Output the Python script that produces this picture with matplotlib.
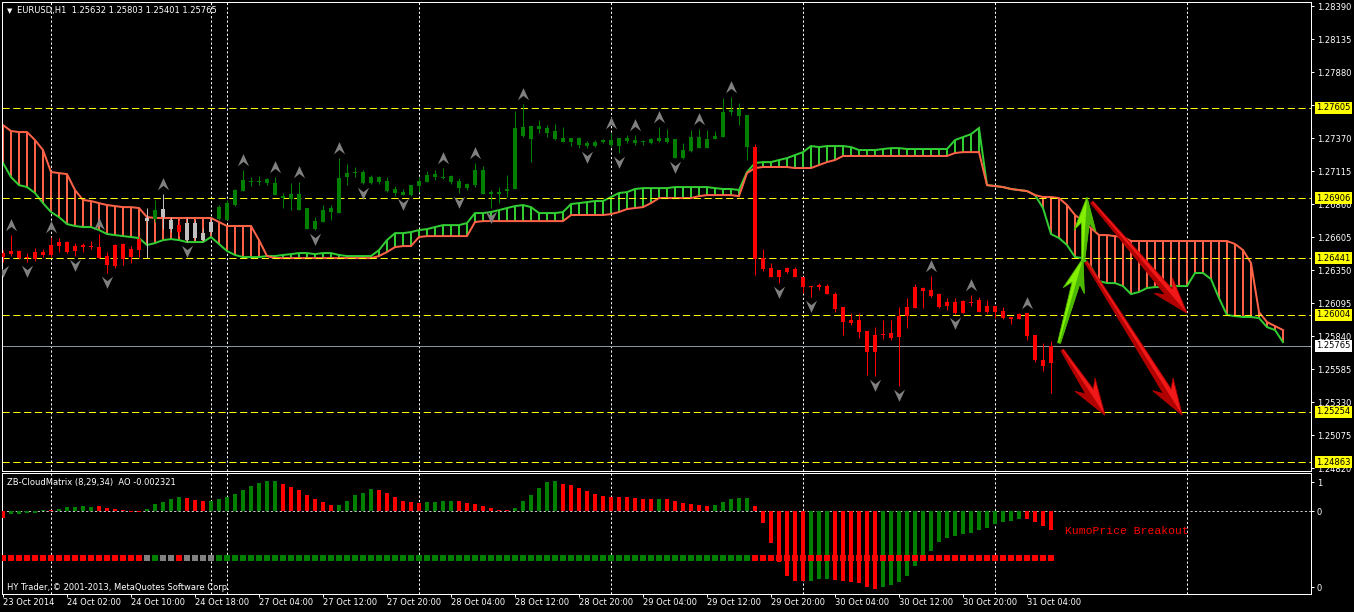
import numpy as np
import matplotlib.pyplot as plt
from matplotlib.path import Path
from matplotlib.patches import Polygon
from matplotlib.transforms import IdentityTransform

# ---- price data (EURUSD H1), bar index 0..131 ----
opens = [1.26481, 1.26497, 1.26497, 1.26450, 1.26489, 1.26489, 1.26543, 1.26566, 1.26566, 1.26535,
         1.26543, 1.26535, 1.26527, 1.26458, 1.26543, 1.26551, 1.26512, 1.26589, 1.26752, 1.26744,
         1.26821, 1.26736, 1.26697, 1.26713, 1.26597, 1.26635, 1.26643, 1.26744, 1.26736, 1.26852,
         1.26960, 1.27029, 1.27037, 1.27022, 1.27022, 1.26921, 1.26898, 1.26937, 1.26829, 1.26666,
         1.26721, 1.26798, 1.26790, 1.27068, 1.27099, 1.27107, 1.27068, 1.27029, 1.27037, 1.26945,
         1.26929, 1.26929, 1.26999, 1.27029, 1.27068, 1.27068, 1.27076, 1.27037, 1.26983, 1.27006,
         1.27122, 1.26937, 1.26952, 1.26960, 1.26976, 1.27385, 1.27462, 1.27439, 1.27447, 1.27424,
         1.27370, 1.27339, 1.27370, 1.27308, 1.27308, 1.27339, 1.27354, 1.27308, 1.27346, 1.27354,
         1.27339, 1.27331, 1.27346, 1.27370, 1.27362, 1.27215, 1.27269, 1.27377, 1.27292, 1.27362,
         1.27377, 1.27571, 1.27594, 1.27547, 1.27300, 1.26442, 1.26365, 1.26296, 1.26334, 1.26358,
         1.26296, 1.26226, 1.26218, 1.26226, 1.26164, 1.26064, 1.25940, 1.25963, 1.25878, 1.25716,
         1.25855, 1.25863, 1.25832, 1.25994, 1.26056, 1.26211, 1.26195, 1.26164, 1.26071, 1.26102,
         1.26017, 1.26102, 1.26118, 1.26025, 1.26071, 1.26033, 1.25987, 1.25971, 1.26017, 1.25847,
         1.25654, 1.25632]
highs = [1.26504, 1.26620, 1.26504, 1.26481, 1.26520, 1.26512, 1.26605, 1.26597, 1.26574, 1.26558,
         1.26558, 1.26574, 1.26628, 1.26489, 1.26551, 1.26558, 1.26535, 1.26612, 1.26829, 1.26891,
         1.26937, 1.26759, 1.26736, 1.26752, 1.26736, 1.26674, 1.26752, 1.26852, 1.26891, 1.26976,
         1.27122, 1.27068, 1.27076, 1.27060, 1.27068, 1.26945, 1.27022, 1.27029, 1.26829, 1.26759,
         1.26852, 1.26852, 1.27215, 1.27169, 1.27146, 1.27122, 1.27084, 1.27076, 1.27068, 1.26999,
         1.26976, 1.27006, 1.27068, 1.27115, 1.27122, 1.27138, 1.27084, 1.27060, 1.27022, 1.27177,
         1.27153, 1.26968, 1.26991, 1.27084, 1.27578, 1.27632, 1.27462, 1.27509, 1.27470, 1.27478,
         1.27455, 1.27370, 1.27377, 1.27346, 1.27354, 1.27362, 1.27408, 1.27370, 1.27393, 1.27393,
         1.27354, 1.27370, 1.27455, 1.27439, 1.27362, 1.27331, 1.27431, 1.27439, 1.27431, 1.27424,
         1.27679, 1.27687, 1.27640, 1.27547, 1.27323, 1.26512, 1.26404, 1.26350, 1.26373, 1.26373,
         1.26296, 1.26226, 1.26249, 1.26242, 1.26180, 1.26064, 1.26017, 1.26017, 1.25878, 1.25909,
         1.25963, 1.25963, 1.26064, 1.26133, 1.26242, 1.26218, 1.26304, 1.26172, 1.26133, 1.26133,
         1.26118, 1.26157, 1.26141, 1.26118, 1.26071, 1.26064, 1.25987, 1.26017, 1.26017, 1.25847,
         1.25785, 1.25803]
lows = [1.26412, 1.26458, 1.26435, 1.26412, 1.26419, 1.26450, 1.26450, 1.26489, 1.26481, 1.26458,
        1.26489, 1.26512, 1.26442, 1.26327, 1.26365, 1.26388, 1.26404, 1.26450, 1.26442, 1.26721,
        1.26666, 1.26643, 1.26612, 1.26566, 1.26581, 1.26574, 1.26628, 1.26736, 1.26736, 1.26844,
        1.26960, 1.26999, 1.27006, 1.27006, 1.26929, 1.26829, 1.26813, 1.26813, 1.26666, 1.26659,
        1.26721, 1.26736, 1.26790, 1.27006, 1.27068, 1.27014, 1.27014, 1.27014, 1.26952, 1.26921,
        1.26929, 1.26921, 1.26952, 1.27029, 1.27045, 1.27053, 1.27014, 1.26945, 1.26968, 1.26991,
        1.26937, 1.26829, 1.26867, 1.26914, 1.26976, 1.27377, 1.27184, 1.27408, 1.27377, 1.27354,
        1.27339, 1.27308, 1.27292, 1.27292, 1.27300, 1.27331, 1.27300, 1.27254, 1.27331, 1.27315,
        1.27315, 1.27323, 1.27339, 1.27331, 1.27215, 1.27207, 1.27261, 1.27292, 1.27292, 1.27362,
        1.27377, 1.27547, 1.27470, 1.27200, 1.26311, 1.26342, 1.26296, 1.26249, 1.26327, 1.26296,
        1.26172, 1.26141, 1.26195, 1.26164, 1.26025, 1.25847, 1.25925, 1.25824, 1.25539, 1.25531,
        1.25816, 1.25809, 1.25453, 1.25901, 1.26056, 1.26056, 1.26141, 1.26056, 1.26041, 1.26010,
        1.26017, 1.26071, 1.26025, 1.26017, 1.25979, 1.25971, 1.25932, 1.25971, 1.25809, 1.25639,
        1.25570, 1.25401]
closes = [1.26450, 1.26473, 1.26442, 1.26442, 1.26435, 1.26466, 1.26466, 1.26535, 1.26489, 1.26497,
          1.26527, 1.26527, 1.26442, 1.26388, 1.26381, 1.26435, 1.26450, 1.26504, 1.26728, 1.26813,
          1.26759, 1.26666, 1.26643, 1.26581, 1.26713, 1.26581, 1.26721, 1.26836, 1.26867, 1.26968,
          1.27045, 1.27037, 1.27029, 1.27053, 1.26929, 1.26906, 1.26937, 1.26813, 1.26666, 1.26728,
          1.26813, 1.26829, 1.27060, 1.27099, 1.27107, 1.27022, 1.27022, 1.27068, 1.26960, 1.26976,
          1.26952, 1.27006, 1.27037, 1.27084, 1.27091, 1.27060, 1.27029, 1.26983, 1.27014, 1.27122,
          1.26937, 1.26952, 1.26937, 1.26976, 1.27447, 1.27455, 1.27362, 1.27462, 1.27408, 1.27362,
          1.27339, 1.27370, 1.27315, 1.27331, 1.27339, 1.27354, 1.27315, 1.27370, 1.27370, 1.27331,
          1.27346, 1.27362, 1.27370, 1.27339, 1.27215, 1.27277, 1.27377, 1.27292, 1.27362, 1.27385,
          1.27571, 1.27586, 1.27540, 1.27300, 1.26435, 1.26358, 1.26296, 1.26350, 1.26365, 1.26296,
          1.26218, 1.26218, 1.26234, 1.26164, 1.26048, 1.25948, 1.25963, 1.25870, 1.25716, 1.25847,
          1.25847, 1.25824, 1.25994, 1.26064, 1.26218, 1.26187, 1.26149, 1.26064, 1.26102, 1.26017,
          1.26110, 1.26094, 1.26025, 1.26071, 1.26025, 1.25979, 1.25971, 1.26010, 1.25839, 1.25654,
          1.25608, 1.25765]
# trend state per bar: r = bearish, g = bullish, s = neutral
states = ("rrrrrrrrrrrrrrrrrr" "sg" "ss" "r" "ssss"
          "ggggggggggggggggggggggggggggggggggggggggggggggggggggggggggggggggggg"
          "rrrrrrrrrrrrrrrrrrrrrrrrrrrrrrrrrrrrrr")

# ---- Ichimoku senkou spans (shifted 26 bars ahead), bar index 0..160 ----
span_a = [1.27177, 1.27068, 1.27006, 1.26991, 1.26945, 1.26867, 1.26798, 1.26759, 1.26705, 1.26690,
          1.26682, 1.26682, 1.26659, 1.26628, 1.26620, 1.26612, 1.26605, 1.26597, 1.26543, 1.26558,
          1.26581, 1.26589, 1.26581, 1.26566, 1.26566, 1.26566, 1.26605, 1.26551, 1.26497, 1.26466,
          1.26450, 1.26450, 1.26450, 1.26458, 1.26458, 1.26466, 1.26473, 1.26481, 1.26481, 1.26473,
          1.26481, 1.26481, 1.26466, 1.26458, 1.26458, 1.26458, 1.26458, 1.26504, 1.26581, 1.26635,
          1.26635, 1.26643, 1.26659, 1.26666, 1.26682, 1.26697, 1.26697, 1.26697, 1.26713, 1.26790,
          1.26790, 1.26798, 1.26813, 1.26829, 1.26844, 1.26852, 1.26836, 1.26790, 1.26790, 1.26790,
          1.26798, 1.26860, 1.26867, 1.26875, 1.26883, 1.26883, 1.26914, 1.26945, 1.26952, 1.26976,
          1.26983, 1.26983, 1.26983, 1.26983, 1.26991, 1.26991, 1.26991, 1.26991, 1.26991, 1.26983,
          1.26976, 1.26976, 1.26968, 1.27107, 1.27177, 1.27184, 1.27184, 1.27200, 1.27215, 1.27238,
          1.27261, 1.27308, 1.27300, 1.27308, 1.27308, 1.27308, 1.27300, 1.27277, 1.27277, 1.27277,
          1.27285, 1.27292, 1.27292, 1.27285, 1.27285, 1.27285, 1.27285, 1.27285, 1.27285, 1.27354,
          1.27377, 1.27400, 1.27447, 1.27006, 1.26999, 1.26991, 1.26976, 1.26968, 1.26960, 1.26929,
          1.26829, 1.26628, 1.26597, 1.26543, 1.26450, 1.26442, 1.26373, 1.26265, 1.26249, 1.26249,
          1.26226, 1.26164, 1.26180, 1.26211, 1.26218, 1.26218, 1.26226, 1.26226, 1.26226, 1.26327,
          1.26327, 1.26280, 1.26133, 1.26002, 1.25994, 1.25987, 1.25987, 1.25979, 1.25909, 1.25886,
          1.25793]
span_b = [1.27470, 1.27424, 1.27416, 1.27416, 1.27354, 1.27277, 1.27107, 1.27099, 1.27091, 1.26968,
          1.26891, 1.26883, 1.26867, 1.26852, 1.26844, 1.26836, 1.26836, 1.26829, 1.26759, 1.26752,
          1.26752, 1.26752, 1.26752, 1.26752, 1.26752, 1.26752, 1.26752, 1.26721, 1.26690, 1.26690,
          1.26690, 1.26690, 1.26581, 1.26458, 1.26442, 1.26442, 1.26442, 1.26442, 1.26442, 1.26442,
          1.26442, 1.26442, 1.26442, 1.26442, 1.26442, 1.26442, 1.26442, 1.26458, 1.26489, 1.26527,
          1.26535, 1.26535, 1.26605, 1.26612, 1.26612, 1.26612, 1.26612, 1.26612, 1.26612, 1.26721,
          1.26728, 1.26728, 1.26728, 1.26728, 1.26728, 1.26728, 1.26728, 1.26728, 1.26728, 1.26728,
          1.26728, 1.26775, 1.26775, 1.26775, 1.26775, 1.26775, 1.26782, 1.26798, 1.26821, 1.26829,
          1.26836, 1.26867, 1.26906, 1.26906, 1.26906, 1.26906, 1.26906, 1.26921, 1.26929, 1.26929,
          1.26929, 1.26929, 1.26921, 1.27099, 1.27138, 1.27146, 1.27146, 1.27146, 1.27146, 1.27138,
          1.27138, 1.27138, 1.27161, 1.27184, 1.27200, 1.27231, 1.27231, 1.27231, 1.27231, 1.27231,
          1.27231, 1.27231, 1.27231, 1.27231, 1.27231, 1.27231, 1.27231, 1.27231, 1.27231, 1.27254,
          1.27261, 1.27261, 1.27261, 1.27006, 1.26999, 1.26991, 1.26976, 1.26968, 1.26960, 1.26929,
          1.26914, 1.26914, 1.26906, 1.26852, 1.26775, 1.26728, 1.26674, 1.26620, 1.26620, 1.26612,
          1.26605, 1.26574, 1.26574, 1.26574, 1.26574, 1.26574, 1.26574, 1.26574, 1.26574, 1.26574,
          1.26574, 1.26574, 1.26574, 1.26574, 1.26551, 1.26504, 1.26404, 1.26025, 1.25948, 1.25917,
          1.25886]

# fractal bars
up_fractals = [1, 6, 12, 20, 30, 34, 37, 42, 55, 59, 65, 76, 79, 82, 87, 91, 116, 121, 128]
down_fractals = [0, 3, 9, 13, 23, 39, 45, 50, 57, 61, 73, 77, 84, 97, 101, 109, 112, 119]

# horizontal levels and bid
levels = [1.27605, 1.26906, 1.26441, 1.26004, 1.25254, 1.24863]
bid = 1.25765
y_ticks = [1.28390, 1.28135, 1.27880, 1.27625, 1.27370, 1.27115, 1.26860, 1.26605,
           1.26350, 1.26095, 1.25840, 1.25585, 1.25330, 1.25075, 1.24820]

# day separators (bar index)
separators = [6, 26, 28, 52, 76, 100, 124, 148]

# time labels
time_idx = [0, 8, 16, 24, 32, 40, 48, 56, 64, 72, 80, 88, 96, 104, 112, 120, 128]
time_labels = ["23 Oct 2014", "24 Oct 02:00", "24 Oct 10:00", "24 Oct 18:00", "27 Oct 04:00",
               "27 Oct 12:00", "27 Oct 20:00", "28 Oct 04:00", "28 Oct 12:00", "28 Oct 20:00",
               "29 Oct 04:00", "29 Oct 12:00", "29 Oct 20:00", "30 Oct 04:00", "30 Oct 12:00",
               "30 Oct 20:00", "31 Oct 04:00"]

# Awesome Oscillator histogram
ao = [-0.00082, -0.00040, -0.00040, -0.00028, -0.00021, 0.00012, 0.00012, 0.00024, 0.00053, 0.00053,
      0.00065, 0.00053, 0.00065, 0.00040, 0.00021, 0.00012, -0.00012, -0.00016, 0.00021, 0.00082,
      0.00114, 0.00147, 0.00175, 0.00163, 0.00134, 0.00122, 0.00122, 0.00147, 0.00175, 0.00208,
      0.00257, 0.00306, 0.00338, 0.00367, 0.00367, 0.00330, 0.00297, 0.00257, 0.00196, 0.00143,
      0.00110, 0.00077, 0.00077, 0.00122, 0.00196, 0.00216, 0.00269, 0.00257, 0.00216, 0.00175,
      0.00126, 0.00106, 0.00094, 0.00106, 0.00106, 0.00122, 0.00122, 0.00122, 0.00094, 0.00082,
      0.00061, 0.00033, 0.00012, 0.00012, 0.00033, 0.00122, 0.00196, 0.00277, 0.00351, 0.00367,
      0.00330, 0.00318, 0.00277, 0.00244, 0.00208, 0.00183, 0.00167, 0.00167, 0.00167, 0.00155,
      0.00143, 0.00143, 0.00143, 0.00143, 0.00122, 0.00094, 0.00082, 0.00073, 0.00061, 0.00073,
      0.00106, 0.00143, 0.00159, 0.00155, 0.00061, -0.00150, -0.00387, -0.00620, -0.00794, -0.00852,
      -0.00855, -0.00852, -0.00831, -0.00831, -0.00843, -0.00855, -0.00864, -0.00884, -0.00932, -0.00953,
      -0.00925, -0.00904, -0.00868, -0.00794, -0.00672, -0.00590, -0.00489, -0.00375, -0.00326, -0.00306,
      -0.00281, -0.00265, -0.00232, -0.00204, -0.00163, -0.00131, -0.00119, -0.00098, -0.00098, -0.00131,
      -0.00180, -0.002321]
ao_dir = ("rgggggrgggggrrrrrrgggggrrrggggggggg" "rrrrrrrgggggrrrrrrggggrrrrrrrgggggg"
          "rrrrrrrrrrrrgrrrrrrgggggrrrrrrrgggrrrrrrgggggggggggggggggg" "rrrr")

# hand-drawn arrows: (tail bar, tail price, tip bar, tip price)
green_arrows = [(132.0, 1.25786, 135.0, 1.26442), (135.0, 1.26412, 135.5, 1.26914)]
red_arrows = [(132.4, 1.25732, 137.75, 1.25229), (135.4, 1.26412, 147.4, 1.25229),
              (136.1, 1.26875, 148.0, 1.26017)]

# ---- figure ----
W, H = 1354, 612
PX = 0.72  # one pixel in points
fig = plt.figure(figsize=(W / 100, H / 100), dpi=100, facecolor='black')
ax = fig.add_axes([2 / W, 141 / H, 1309 / W, 469 / H], facecolor='black')
sub = fig.add_axes([2 / W, 18 / H, 1309 / W, 121 / H], facecolor='black')

XLIM = (-0.125, 163.5)
ax.set_xlim(*XLIM)
ax.set_ylim(1.24797, 1.28421)
sub.set_xlim(*XLIM)
sub.set_ylim(-0.010143, 0.004644)

candle_col = {'r': '#ff0000', 'g': '#008000', 's': '#c0c0c0'}
state_col = {'r': '#ff0000', 'g': '#008000', 's': '#808080'}
RED, GREEN, TOMATO, LIME = '#ff0000', '#008000', '#ff6347', '#32cd32'

# cloud
xc = np.arange(len(span_a))
sa, sb = np.array(span_a), np.array(span_b)
hatch = [LIME if a > b else TOMATO for a, b in zip(sa, sb)]
ax.vlines(xc, sa, sb, colors=hatch, linewidth=2 * PX, zorder=2)
ax.plot(xc, sa, color=LIME, lw=2 * PX, zorder=2.2, solid_joinstyle='miter')
ax.plot(xc, sb, color=TOMATO, lw=2 * PX, zorder=2.3, solid_joinstyle='miter')

# level lines
for lv in levels:
    ax.axhline(lv, color='#ffff00', lw=PX, dashes=(7.2, 3.6), zorder=2.5)
ax.axhline(bid, color='#8c96a0', lw=PX, zorder=2.5)

for s in separators:
    ax.axvline(s, color='white', lw=PX, dashes=(2.2, 2.2), zorder=1)
    sub.axvline(s, color='white', lw=PX, dashes=(2.2, 2.2), zorder=1)

# candles
x = np.arange(len(opens))
o, h, l, c = map(np.array, (opens, highs, lows, closes))
ccols = [candle_col[s] for s in states]
lo = np.minimum(o, c)
hi = np.maximum(o, c)
ax.vlines(x, l, h, colors=ccols, linewidth=PX, zorder=3)
ax.bar(x, np.maximum(hi - lo, 0.00008), bottom=lo, width=0.62, color=ccols, linewidth=0, zorder=3.1)

# fractals
up_marker = Path([(0, 0.55), (0.48, -0.5), (0, -0.12), (-0.48, -0.5), (0, 0.55)],
                 [Path.MOVETO, Path.LINETO, Path.LINETO, Path.LINETO, Path.CLOSEPOLY])
down_marker = Path([(0, -0.55), (0.48, 0.5), (0, 0.12), (-0.48, 0.5), (0, -0.55)],
                   [Path.MOVETO, Path.LINETO, Path.LINETO, Path.LINETO, Path.CLOSEPOLY])
ax.scatter(up_fractals, h[up_fractals] + 0.00077, marker=up_marker, s=85, c='#808080',
           linewidths=0, zorder=4)
ax.scatter(down_fractals, l[down_fractals] - 0.00072, marker=down_marker, s=85, c='#808080',
           linewidths=0, zorder=4)


def draw_arrow(a, p0, p1, color, dark, tail_w, neck_w, head_w, head_len):
    t = np.array(a.transData.transform(p0))
    tip = np.array(a.transData.transform(p1))
    d = tip - t
    u = d / np.hypot(*d)
    n = np.array([-u[1], u[0]])
    base = tip - u * head_len
    barb = base - u * head_len * 0.3
    pts = [t + n * tail_w / 2, base + n * neck_w / 2, barb + n * head_w / 2, tip,
           barb - n * head_w / 2, base - n * neck_w / 2, t - n * tail_w / 2]
    a.add_patch(Polygon(pts, closed=True, transform=IdentityTransform(), fc=color,
                        ec=dark, lw=0.6, zorder=6))
    half = [t, tip, barb - n * head_w / 2, base - n * neck_w / 2, t - n * tail_w / 2]
    a.add_patch(Polygon(half, closed=True, transform=IdentityTransform(), fc=dark,
                        ec='none', zorder=6.1))


for x0, y0, x1, y1 in green_arrows:
    draw_arrow(ax, (x0, y0), (x1, y1), '#84f000', '#4cb800', 3, 8, 22, 26)
for x0, y0, x1, y1 in red_arrows:
    draw_arrow(ax, (x0, y0), (x1, y1), '#f01818', '#b00000', 3, 9, 24, 28)

# right price axis
ax.yaxis.tick_right()
ax.set_yticks(y_ticks)
ax.set_yticklabels([f'{t:.5f}' for t in y_ticks])
ax.tick_params(axis='y', colors='white', labelsize=6, length=3 * PX, width=PX, pad=2)
ax.tick_params(axis='x', bottom=False, labelbottom=False)
for sp in ax.spines.values():
    sp.set_color('white')
    sp.set_linewidth(PX)

for lv in levels:
    ax.annotate(f'{lv:.5f}', xy=(1, lv), xycoords=('axes fraction', 'data'), xytext=(5, 0),
                textcoords='offset pixels', ha='left', va='center', fontsize=6, color='black',
                bbox=dict(boxstyle='square,pad=0.18', fc='#ffff00', ec='none'),
                annotation_clip=False, zorder=10)
ax.annotate(f'{bid:.5f}', xy=(1, bid), xycoords=('axes fraction', 'data'), xytext=(5, 0),
            textcoords='offset pixels', ha='left', va='center', fontsize=6, color='black',
            bbox=dict(boxstyle='square,pad=0.18', fc='white', ec='none'),
            annotation_clip=False, zorder=10)

fig.text(7 / W, 1 - 11 / H, '\u25bc', color='white', fontsize=5, va='center')
fig.text(17 / W, 1 - 11 / H,
         f'EURUSD,H1  {opens[-1]:.5f} {highs[-1]:.5f} {lows[-1]:.5f} {closes[-1]:.5f}',
         color='white', fontsize=6, va='center')

# oscillator panel
ao_cols = [RED if d == 'r' else GREEN for d in ao_dir]
sub.bar(x, ao, width=0.45, color=ao_cols, linewidth=0, zorder=3)
STATE_ROW = -0.00573
sub.scatter(x, np.full(len(x), STATE_ROW), marker='s', s=15,
            c=[state_col[s] for s in states], linewidths=0, zorder=3)
sub.axhline(0, color='#c8c8c8', lw=PX, dashes=(2.2, 2.2), zorder=2)

sub.yaxis.tick_right()
sub.set_yticks([0.00354, 0.0, -0.00929])
sub.set_yticklabels(['1', '0', '0'])
sub.tick_params(axis='y', colors='white', labelsize=6, length=3 * PX, width=PX, pad=2)
sub.set_xticks(time_idx)
sub.set_xticklabels(time_labels, ha='left')
sub.tick_params(axis='x', colors='white', labelsize=6, length=3 * PX, width=PX, pad=1)
for sp in sub.spines.values():
    sp.set_color('white')
    sp.set_linewidth(PX)

sub.text(132.75, -0.00244, 'KumoPrice Breakout', color='#ff0000', fontsize=8.2,
         family='Liberation Mono', va='center', ha='left')
fig.text(7 / W, 1 - 483 / H, f'ZB-CloudMatrix (8,29,34)  AO {ao[-1]:.6f}',
         color='white', fontsize=6, va='center')
fig.text(7 / W, 1 - 587 / H, 'HY Trader, \u00a9 2001-2013, MetaQuotes Software Corp.',
         color='white', fontsize=6, va='center')

fig.savefig('out.png', dpi=100, facecolor='black')
